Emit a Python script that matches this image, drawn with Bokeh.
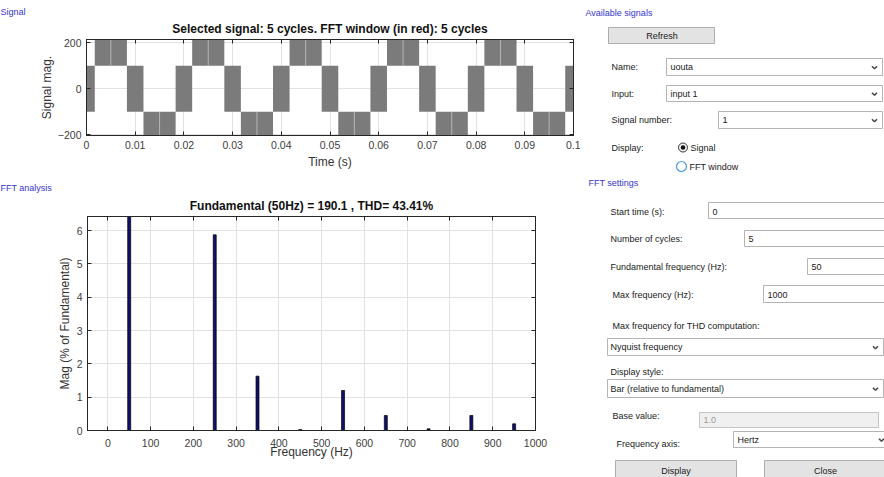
from bokeh.plotting import figure
from bokeh.layouts import row, column
from bokeh.models import (Range1d, FixedTicker, LinearAxis, Title, NumeralTickFormatter,
                          ColumnDataSource)
from bokeh.core.properties import value
from bokeh.embed import file_html
from bokeh.resources import INLINE

FONT = "Liberation Sans"

# ---------------- data ----------------
# Signal: switching bands of the multilevel output (start, end, band)
sig_start = [0.0, 0.0017, 0.0083, 0.0117, 0.0183, 0.0217, 0.0283, 0.0317, 0.0383, 0.0417, 0.0483,
             0.0517, 0.0583, 0.0617, 0.0683, 0.0717, 0.0783, 0.0817, 0.0883, 0.0917, 0.0983]
sig_end = [0.0017, 0.0083, 0.0117, 0.0183, 0.0217, 0.0283, 0.0317, 0.0383, 0.0417, 0.0483, 0.0517,
           0.0583, 0.0617, 0.0683, 0.0717, 0.0783, 0.0817, 0.0883, 0.0917, 0.0983, 0.1]
sig_low = [-100, 100, -100, -220, -100, 100, -100, -220, -100, 100, -100,
           -220, -100, 100, -100, -220, -100, 100, -100, -220, -100]
sig_high = [100, 220, 100, -100, 100, 220, 100, -100, 100, 220, 100,
            -100, 100, 220, 100, -100, 100, 220, 100, -100, 100]
# brief un-switched instants at the centre of the outer bands
gap_t = [0.005, 0.015, 0.025, 0.035, 0.045, 0.055, 0.065, 0.075, 0.085, 0.095]
gap_low = [100, -220, 100, -220, 100, -220, 100, -220, 100, -220]
gap_high = [220, -100, 220, -100, 220, -100, 220, -100, 220, -100]

sig_xticks = [0, 0.01, 0.02, 0.03, 0.04, 0.05, 0.06, 0.07, 0.08, 0.09, 0.1]
sig_yticks = [-200, 0, 200]

# FFT spectrum (% of fundamental)
fft_freq = [50, 250, 350, 450, 550, 650, 750, 850, 950]
fft_mag = [100.0, 5.87, 1.63, 0.03, 1.2, 0.45, 0.05, 0.45, 0.2]
fft_xticks = [0, 100, 200, 300, 400, 500, 600, 700, 800, 900, 1000]
fft_yticks = [0, 1, 2, 3, 4, 5, 6]

sig_title = "Selected signal: 5 cycles. FFT window (in red): 5 cycles"
fft_title = "Fundamental (50Hz) = 190.1 , THD= 43.41%"

TICK_COLOR = "#404040"
LINE_COLOR = "#262626"
GRID_COLOR = "#e2e2e2"
BLUE = "#3535cf"


def style_axes(p, xticks, yticks, xlabel, ylabel):
    for ax in p.xaxis + p.yaxis:
        ax.major_label_text_font = FONT
        ax.major_label_text_font_size = "10.5px"
        ax.major_label_text_color = TICK_COLOR
        ax.axis_label_text_font = FONT
        ax.axis_label_text_font_size = "12px"
        ax.axis_label_text_font_style = "normal"
        ax.axis_label_text_color = "#333333"
        ax.major_tick_in = 4
        ax.major_tick_out = 0
        ax.minor_tick_in = 0
        ax.minor_tick_out = 0
        ax.axis_line_color = LINE_COLOR
        ax.major_tick_line_color = LINE_COLOR
    p.xaxis.ticker = FixedTicker(ticks=xticks)
    p.yaxis.ticker = FixedTicker(ticks=yticks)
    p.xaxis.axis_label = xlabel
    p.yaxis.axis_label = ylabel
    p.xgrid.ticker = FixedTicker(ticks=xticks)
    p.ygrid.ticker = FixedTicker(ticks=yticks)
    p.grid.grid_line_color = GRID_COLOR
    p.outline_line_color = LINE_COLOR
    top = LinearAxis(ticker=FixedTicker(ticks=xticks), major_label_text_font_size="0px",
                     major_label_standoff=0, major_tick_in=4, major_tick_out=0,
                     minor_tick_in=0, minor_tick_out=0, axis_line_color=LINE_COLOR,
                     major_tick_line_color=LINE_COLOR)
    right = LinearAxis(ticker=FixedTicker(ticks=yticks), major_label_text_font_size="0px",
                       major_label_standoff=0, major_tick_in=4, major_tick_out=0,
                       minor_tick_in=0, minor_tick_out=0, axis_line_color=LINE_COLOR,
                       major_tick_line_color=LINE_COLOR)
    p.add_layout(top, "above")
    p.add_layout(right, "right")


def add_titles(p, main_text, panel_text, left_border, gap):
    p.add_layout(Title(text=main_text, align="center", text_font=FONT, text_font_size="12px",
                       text_font_style="bold", text_color="#111111", standoff=gap), "above")
    p.add_layout(Title(text=panel_text, align="left", offset=-left_border, text_font=FONT,
                       text_font_size="9px", text_font_style="normal", text_color=BLUE,
                       standoff=0), "above")


# ---------------- signal plot ----------------
p1 = figure(width=580, height=180, x_range=Range1d(0, 0.1), y_range=Range1d(-203, 214),
            output_backend="svg", toolbar_location=None,
            min_border_left=86, min_border_right=7, min_border_top=39, min_border_bottom=45)
p1.quad(left=sig_start, right=sig_end, bottom=sig_low, top=sig_high,
        fill_color="#7b7b7b", line_color=None)
p1.segment(x0=gap_t, x1=gap_t, y0=gap_low, y1=gap_high, line_color="#b4b4b4", line_width=1)
style_axes(p1, sig_xticks, sig_yticks, "Time (s)", "Signal mag.")
xb1 = p1.below[0]
xb1.formatter = NumeralTickFormatter(format="0.[00]")
xb1.major_label_standoff = 5
xb1.axis_label_standoff = 3
p1.yaxis[0].major_label_standoff = 5
p1.yaxis[0].axis_label_standoff = 1
add_titles(p1, sig_title, "Signal", 86, 7)

# ---------------- FFT plot ----------------
p2 = figure(width=580, height=297, x_range=Range1d(-47.5, 1000), y_range=Range1d(0, 6.42),
            output_backend="svg", toolbar_location=None,
            min_border_left=87, min_border_right=45, min_border_top=36, min_border_bottom=47)
p2.vbar(x=fft_freq, top=fft_mag, width=7, fill_color="#10106e", line_color="#000000",
        line_width=0.7)
style_axes(p2, fft_xticks, fft_yticks, "Frequency (Hz)", "Mag (% of Fundamental)")
xb2 = p2.below[0]
xb2.major_label_standoff = 8
xb2.axis_label_standoff = -5
p2.yaxis[0].major_label_standoff = 5
p2.yaxis[0].axis_label_standoff = 2
add_titles(p2, fft_title, "FFT analysis", 87, 8)

# ---------------- GUI panel ----------------
g = figure(width=304, height=477, x_range=Range1d(580, 884), y_range=Range1d(477, 0),
           output_backend="svg", toolbar_location=None, min_border=0)
g.axis.visible = False
g.grid.visible = False
g.outline_line_color = None

# white fields / dropdowns
fields = dict(
    left=[666, 666, 718, 708, 744, 807, 763, 607, 607, 733],
    right=[882, 882, 882, 886, 886, 886, 886, 883, 883, 886],
    top=[58, 85, 111, 202, 230, 258, 285, 338, 379, 431],
    bottom=[75, 101, 128, 218, 246, 274, 302, 355, 397, 447],
)
g.quad(source=ColumnDataSource(fields), left="left", right="right", top="top", bottom="bottom",
       fill_color="white", line_color="#b4b4b4", line_width=1)
# disabled field
g.quad(left=[699], right=[878], top=[412], bottom=[427], fill_color="#f0f0f0",
       line_color="#c4c4c4", line_width=1)
# buttons
g.quad(left=[608, 615, 764], right=[714, 736, 886], top=[27, 460, 460], bottom=[43, 482, 482],
       fill_color="#e3e3e3", line_color="#adadad", line_width=1)
# dropdown chevrons
chev_x = [874, 874, 874, 875, 875, 881]
chev_y = [67, 93.5, 120, 347, 388.5, 439.5]
g.multi_line(xs=[[cx - 2.5, cx, cx + 2.5] for cx in chev_x],
             ys=[[cy - 1.3, cy + 1.3, cy - 1.3] for cy in chev_y],
             line_color="#4a4a4a", line_width=1.6)
# radio buttons
g.circle(x=[682.5], y=[147], radius=4.5, fill_color="#f4f4f4", line_color="#333333",
         line_width=1)
g.circle(x=[682.5], y=[147], radius=2.3, fill_color="#111111", line_color=None)
g.circle(x=[681], y=[166], radius=5, fill_color="white", line_color="#4b9be6", line_width=1.2)

lab = dict(
    x=[611, 670, 611, 670, 611, 722, 611, 690, 689, 610, 712, 610, 748, 610, 811, 612, 767,
       612, 610, 610, 610, 612, 616, 737],
    y=[66, 66, 93, 93, 119, 119, 147, 147, 166, 211, 211, 238, 238, 266, 266, 294, 294,
       325, 346.5, 371, 388.5, 415, 443, 439],
    text=["Name:", "uouta", "Input:", "input 1", "Signal number:", "1", "Display:", "Signal",
          "FFT window", "Start time (s):", "0", "Number of cycles:", "5",
          "Fundamental frequency (Hz):", "50", "Max frequency (Hz):", "1000",
          "Max frequency for THD computation:", "Nyquist frequency", "Display style:",
          "Bar (relative to fundamental)", "Base value:", "Frequency axis:", "Hertz"],
)
g.text(source=ColumnDataSource(lab), x="x", y="y", text="text", text_font=value(FONT),
       text_font_size="9px", text_color="#1a1a1a", text_baseline="middle", text_align="left")
g.text(x=[585, 588], y=[12, 182.5], text=["Available signals", "FFT settings"],
       text_font=value(FONT), text_font_size="9px", text_color=BLUE,
       text_baseline="middle", text_align="left")
g.text(x=[703], y=[419.5], text=["1.0"], text_font=value(FONT), text_font_size="9px",
       text_color="#9a9a9a", text_baseline="middle", text_align="left")
g.text(x=[661.5, 675.5, 825], y=[35, 470, 470], text=["Refresh", "Display", "Close"],
       text_font=value(FONT), text_font_size="9px", text_color="#1a1a1a",
       text_baseline="middle", text_align="center")

layout = row(column(p1, row(p2)), g)
open("out.html", "w").write(file_html(layout, INLINE))
